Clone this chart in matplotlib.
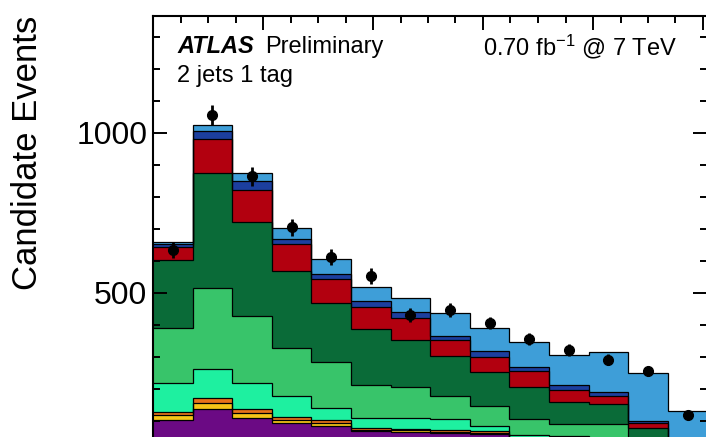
import numpy as np
import matplotlib.pyplot as plt
from matplotlib.ticker import MultipleLocator, FixedLocator

plt.rcParams['font.family'] = ['Liberation Sans', 'DejaVu Sans']
plt.rcParams['mathtext.default'] = 'regular'

# bin edges (18 units per bin), 14 bins visible
edges = np.arange(0, 253, 18)
y_ticks = [500, 1000]

# stacked backgrounds, bottom to top (events per bin)
purple = [103, 137, 110, 93, 85, 69, 67, 62, 60, 40, 38, 35, 20, 10]
yellow = [16, 18, 14, 10, 10, 4, 4, 4, 3, 2, 2, 2, 2, 1]
orange = [10, 16, 14, 11, 8, 4, 4, 6, 6, 3, 3, 3, 2, 1]
aqua = [90, 91, 80, 63, 39, 31, 34, 33, 15, 10, 9, 8, 6, 3]
lightgreen = [171, 253, 209, 150, 143, 104, 98, 73, 62, 50, 40, 43, 15, 7]
darkgreen = [213, 361, 293, 240, 185, 175, 146, 125, 108, 101, 68, 62, 32, 8]
red = [42, 104, 101, 85, 73, 68, 68, 50, 47, 50, 37, 25, 17, 8]
darkblue = [7, 26, 29, 17, 17, 20, 19, 12, 17, 14, 16, 13, 5, 4]
lightblue = [8, 19, 26, 33, 45, 43, 43, 73, 72, 76, 93, 125, 152, 89]

# data points
data = [635, 1056, 864, 705, 613, 553, 431, 447, 406, 357, 322, 291, 257, 119]
data_err = [25, 32, 29, 27, 25, 24, 21, 21, 20, 19, 18, 17, 16, 11]

stack = [
    (purple, '#6b0a84'),
    (yellow, '#f5c518'),
    (orange, '#e8731a'),
    (aqua, '#1ef0a0'),
    (lightgreen, '#38c46a'),
    (darkgreen, '#0a6b38'),
    (red, '#b2000f'),
    (darkblue, '#1c3f9e'),
    (lightblue, '#3e9ed8'),
]

fig = plt.figure(figsize=(7.06, 4.37), dpi=100)
ax = fig.add_axes([153 / 706, -16 / 437, 554.4 / 706, 1.0])

tops = []
cum = np.zeros(len(purple))
for vals, col in stack:
    cum = cum + np.array(vals)
    tops.append((cum.copy(), col))

for top, col in reversed(tops):
    ax.stairs(top, edges, baseline=0, fill=True, color=col, lw=0)
for top, col in tops:
    ax.stairs(top, edges, baseline=None, color='black', lw=0.9)

centers = (edges[:-1] + edges[1:]) / 2
ax.errorbar(centers, data, yerr=data_err, fmt='o', color='black',
            ms=7, lw=2, capsize=0, zorder=5)

ax.set_xlim(0, 252)
ax.set_ylim(0, 1365)
ax.xaxis.set_major_locator(MultipleLocator(50))
ax.xaxis.set_minor_locator(MultipleLocator(12.5))
ax.yaxis.set_major_locator(FixedLocator(y_ticks))
ax.yaxis.set_minor_locator(MultipleLocator(100))
ax.tick_params(which='both', direction='in', top=True, right=True,
               width=1.4, labelsize=23, pad=4, labelbottom=False)
ax.tick_params(which='major', length=10)
ax.tick_params(which='minor', length=5)
for s in ax.spines.values():
    s.set_linewidth(1.5)

ax.set_ylabel('Candidate Events', fontsize=25, loc='top')
ax.yaxis.set_label_coords(-0.197, 1.0)

ax.text(0.0433, 0.915, 'ATLAS', transform=ax.transAxes, fontsize=17,
        fontweight='bold', fontstyle='italic', va='baseline')
ax.text(0.202, 0.915, 'Preliminary', transform=ax.transAxes, fontsize=17,
        va='baseline')
ax.text(0.0433, 0.849, '2 jets 1 tag', transform=ax.transAxes, fontsize=17,
        va='baseline')
ax.text(0.945, 0.911, r'0.70 fb$^{-1}$ @ 7 TeV', transform=ax.transAxes,
        fontsize=17, ha='right', va='baseline')

fig.savefig('out.png', dpi=100)
